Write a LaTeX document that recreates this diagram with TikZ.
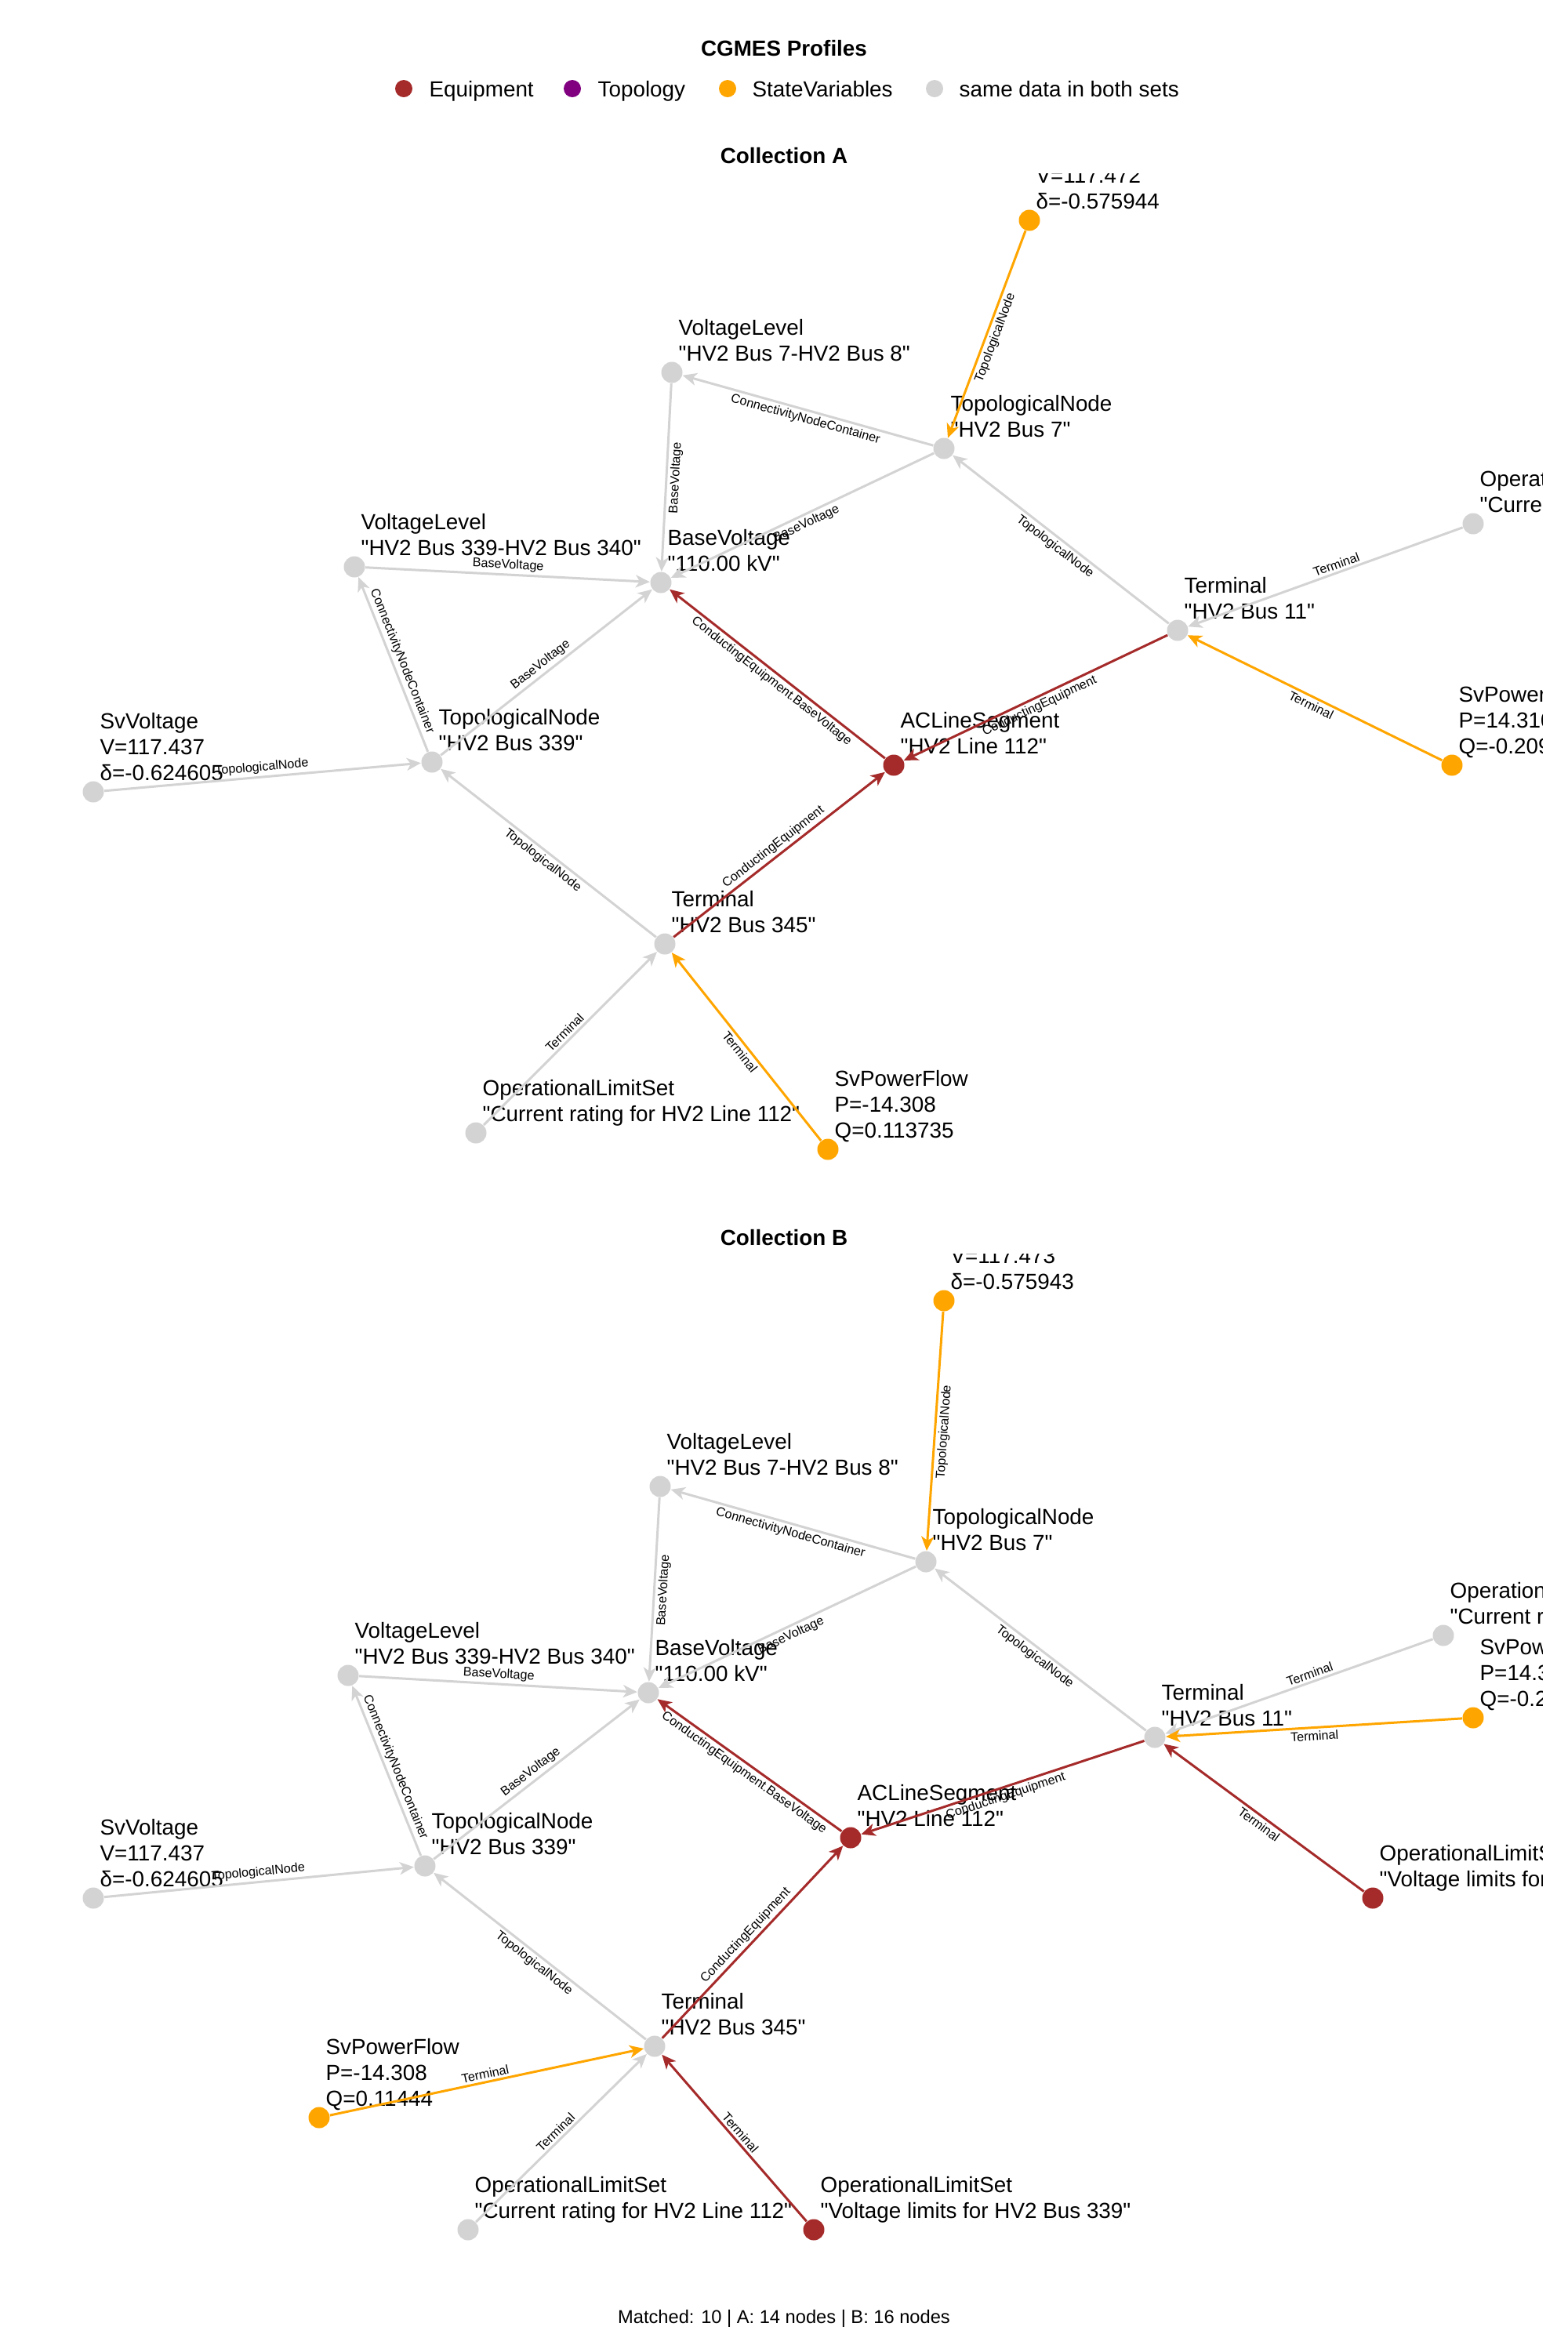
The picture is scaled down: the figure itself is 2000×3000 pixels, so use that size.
\documentclass[tikz,border=0pt]{standalone}
\usepackage{fontspec}
\setmainfont{Liberation Sans}[Ligatures=TeXOff]
\usetikzlibrary{arrows.meta}
\definecolor{eqred}{RGB}{165,42,42}
\definecolor{svorange}{RGB}{255,165,0}
\definecolor{topopurple}{RGB}{128,0,128}
\definecolor{samegray}{RGB}{211,211,211}
\begin{document}
\begin{tikzpicture}[x=0.3pt,y=-0.3pt,
  dot/.style={circle,inner sep=0pt,minimum size=8.1pt,draw=none},
  eqdot/.style={dot,fill=eqred},
  svdot/.style={dot,fill=svorange},
  samedot/.style={dot,fill=samegray},
  legdot/.style={circle,inner sep=0pt,minimum size=6.6pt,draw=none},
  nlab/.style={anchor=south west,inner sep=0pt,align=left,text depth=0pt,font=\fontsize{8.35}{9.9}\selectfont},
  legtext/.style={anchor=base west,inner sep=0pt,font=\fontsize{8.35}{9.9}\selectfont},
  ttl/.style={anchor=base,inner sep=0pt,font=\fontsize{8.35}{9.9}\selectfont\bfseries},
  elab/.style={font=\fontsize{4.85}{5.5}\selectfont,sloped,inner sep=0.9pt,text=black},
  edg/.style={line width=0.9pt,-{Stealth[length=5.4pt,width=4.8pt,inset=1.5pt]}},
  gedge/.style={edg,draw=samegray},
  redge/.style={edg,draw=eqred},
  oedge/.style={edg,draw=svorange}]
\useasboundingbox (0,0) rectangle (2000,3000);

% ---------- title and legend ----------
\node[ttl] (title) at (1000,71) {CGMES Profiles};
\node[legdot,fill=eqred] (lg1) at (515,113) {};
\node[legtext] (lg1t) at (547,123) {Equipment};
\node[legdot,fill=topopurple] (lg2) at (730,113) {};
\node[legtext] (lg2t) at (762,123) {Topology};
\node[legdot,fill=svorange] (lg3) at (928,113) {};
\node[legtext] (lg3t) at (959,123) {StateVariables};
\node[legdot,fill=samegray] (lg4) at (1192,113) {};
\node[legtext] (lg4t) at (1223,123) {same data in both sets};

\node[ttl] (titleA) at (1000,208) {Collection A};
\node[ttl] (titleB) at (1000,1588) {Collection B};
\node[anchor=base,inner sep=0pt,font=\fontsize{7.1}{8.5}\selectfont] (footer) at (1000,2963) {Matched: 10 | A: 14 nodes | B: 16 nodes};

% ---------- Collection A ----------
\begin{scope}
\clip (0,221) rectangle (1967,1560);
\node[svdot] (A-svvt) at (1313,281) {};
\node[samedot] (A-vl78) at (857,475) {};
\node[samedot] (A-tn7) at (1204,572) {};
\node[samedot] (A-olst) at (1879,668) {};
\node[samedot] (A-vl339) at (452,723) {};
\node[samedot] (A-bv) at (843,743) {};
\node[samedot] (A-t11) at (1502,804) {};
\node[samedot] (A-svvl) at (119,1010) {};
\node[samedot] (A-tn339) at (551,972) {};
\node[eqdot] (A-ac) at (1140,976) {};
\node[svdot] (A-svpfr) at (1852,976) {};
\node[samedot] (A-t345) at (848,1204) {};
\node[samedot] (A-olsb) at (607,1445) {};
\node[svdot] (A-svpfb) at (1056,1466) {};

\node[nlab] (A-svvt-l) at ([shift={(8,-13.5)}]A-svvt.center) {SvVoltage\\V=117.472\\δ=-0.575944};
\node[nlab] (A-vl78-l) at ([shift={(8,-13.5)}]A-vl78.center) {VoltageLevel\\"HV2 Bus 7-HV2 Bus 8"};
\node[nlab] (A-tn7-l) at ([shift={(8,-13.5)}]A-tn7.center) {TopologicalNode\\"HV2 Bus 7"};
\node[nlab] (A-olst-l) at ([shift={(8,-13.5)}]A-olst.center) {OperationalLimitSet\\"Current rating for HV2 Line 112"};
\node[nlab] (A-vl339-l) at ([shift={(8,-13.5)}]A-vl339.center) {VoltageLevel\\"HV2 Bus 339-HV2 Bus 340"};
\node[nlab] (A-bv-l) at ([shift={(8,-13.5)}]A-bv.center) {BaseVoltage\\"110.00 kV"};
\node[nlab] (A-t11-l) at ([shift={(8,-13.5)}]A-t11.center) {Terminal\\"HV2 Bus 11"};
\node[nlab] (A-svvl-l) at ([shift={(8,-13.5)}]A-svvl.center) {SvVoltage\\V=117.437\\δ=-0.624605};
\node[nlab] (A-tn339-l) at ([shift={(8,-13.5)}]A-tn339.center) {TopologicalNode\\"HV2 Bus 339"};
\node[nlab] (A-ac-l) at ([shift={(8,-13.5)}]A-ac.center) {ACLineSegment\\"HV2 Line 112"};
\node[nlab] (A-svpfr-l) at ([shift={(8,-13.5)}]A-svpfr.center) {SvPowerFlow\\P=14.3108\\Q=-0.209514};
\node[nlab] (A-t345-l) at ([shift={(8,-13.5)}]A-t345.center) {Terminal\\"HV2 Bus 345"};
\node[nlab] (A-olsb-l) at ([shift={(8,-13.5)}]A-olsb.center) {OperationalLimitSet\\"Current rating for HV2 Line 112"};
\node[nlab] (A-svpfb-l) at ([shift={(8,-13.5)}]A-svpfb.center) {SvPowerFlow\\P=-14.308\\Q=0.113735};

\draw[oedge] (A-svvt) -- node[elab,below]{TopologicalNode} (A-tn7);
\draw[gedge] (A-tn7) -- node[elab,below]{ConnectivityNodeContainer} (A-vl78);
\draw[gedge] (A-vl78) -- node[elab,below]{BaseVoltage} (A-bv);
\draw[gedge] (A-tn7) -- node[elab,below]{BaseVoltage} (A-bv);
\draw[gedge] (A-vl339) -- node[elab,above]{BaseVoltage} (A-bv);
\draw[gedge] (A-tn339) -- node[elab,above]{ConnectivityNodeContainer} (A-vl339);
\draw[gedge] (A-tn339) -- node[elab,above]{BaseVoltage} (A-bv);
\draw[gedge] (A-svvl) -- node[elab,above]{TopologicalNode} (A-tn339);
\draw[gedge] (A-t345) -- node[elab,below]{TopologicalNode} (A-tn339);
\draw[gedge] (A-t11) -- node[elab,below]{TopologicalNode} (A-tn7);
\draw[gedge] (A-olst) -- node[elab,above,pos=0.45]{Terminal} (A-t11);
\draw[oedge] (A-svpfr) -- node[elab,below]{Terminal} (A-t11);
\draw[redge] (A-t11) -- node[elab,below]{ConductingEquipment} (A-ac);
\draw[redge] (A-t345) -- node[elab,above]{ConductingEquipment} (A-ac);
\draw[redge] (A-ac) -- node[elab,below]{ConductingEquipment.BaseVoltage} (A-bv);
\draw[gedge] (A-olsb) -- node[elab,above]{Terminal} (A-t345);
\draw[oedge] (A-svpfb) -- node[elab,below]{Terminal} (A-t345);
\end{scope}

% ---------- Collection B ----------
\begin{scope}
\clip (0,1599) rectangle (1967,2935);
\node[svdot] (B-svvt) at (1204,1659) {};
\node[samedot] (B-vl78) at (842,1896) {};
\node[samedot] (B-tn7) at (1181,1992) {};
\node[samedot] (B-olst) at (1841,2086) {};
\node[svdot] (B-svpfr) at (1879,2191) {};
\node[samedot] (B-vl339) at (444,2137) {};
\node[samedot] (B-bv) at (827,2159) {};
\node[samedot] (B-t11) at (1473,2216) {};
\node[samedot] (B-svvl) at (119,2421) {};
\node[samedot] (B-tn339) at (542,2380) {};
\node[eqdot] (B-ac) at (1085,2344) {};
\node[eqdot] (B-olsvr) at (1751,2421) {};
\node[samedot] (B-t345) at (835,2610) {};
\node[svdot] (B-svpfl) at (407,2701) {};
\node[samedot] (B-olsb) at (597,2844) {};
\node[eqdot] (B-olsvb) at (1038,2844) {};

\node[nlab] (B-svvt-l) at ([shift={(8,-13.5)}]B-svvt.center) {SvVoltage\\V=117.473\\δ=-0.575943};
\node[nlab] (B-vl78-l) at ([shift={(8,-13.5)}]B-vl78.center) {VoltageLevel\\"HV2 Bus 7-HV2 Bus 8"};
\node[nlab] (B-tn7-l) at ([shift={(8,-13.5)}]B-tn7.center) {TopologicalNode\\"HV2 Bus 7"};
\node[nlab] (B-olst-l) at ([shift={(8,-13.5)}]B-olst.center) {OperationalLimitSet\\"Current rating for HV2 Line 112"};
\node[nlab] (B-svpfr-l) at ([shift={(8,-13.5)}]B-svpfr.center) {SvPowerFlow\\P=14.3108\\Q=-0.209514};
\node[nlab] (B-vl339-l) at ([shift={(8,-13.5)}]B-vl339.center) {VoltageLevel\\"HV2 Bus 339-HV2 Bus 340"};
\node[nlab] (B-bv-l) at ([shift={(8,-13.5)}]B-bv.center) {BaseVoltage\\"110.00 kV"};
\node[nlab] (B-t11-l) at ([shift={(8,-13.5)}]B-t11.center) {Terminal\\"HV2 Bus 11"};
\node[nlab] (B-svvl-l) at ([shift={(8,-13.5)}]B-svvl.center) {SvVoltage\\V=117.437\\δ=-0.624605};
\node[nlab] (B-tn339-l) at ([shift={(8,-13.5)}]B-tn339.center) {TopologicalNode\\"HV2 Bus 339"};
\node[nlab] (B-ac-l) at ([shift={(8,-13.5)}]B-ac.center) {ACLineSegment\\"HV2 Line 112"};
\node[nlab] (B-olsvr-l) at ([shift={(8,-13.5)}]B-olsvr.center) {OperationalLimitSet\\"Voltage limits for HV2 Bus 11"};
\node[nlab] (B-t345-l) at ([shift={(8,-13.5)}]B-t345.center) {Terminal\\"HV2 Bus 345"};
\node[nlab] (B-svpfl-l) at ([shift={(8,-13.5)}]B-svpfl.center) {SvPowerFlow\\P=-14.308\\Q=0.11444};
\node[nlab] (B-olsb-l) at ([shift={(8,-13.5)}]B-olsb.center) {OperationalLimitSet\\"Current rating for HV2 Line 112"};
\node[nlab] (B-olsvb-l) at ([shift={(8,-13.5)}]B-olsvb.center) {OperationalLimitSet\\"Voltage limits for HV2 Bus 339"};

\draw[oedge] (B-svvt) -- node[elab,below]{TopologicalNode} (B-tn7);
\draw[gedge] (B-tn7) -- node[elab,below]{ConnectivityNodeContainer} (B-vl78);
\draw[gedge] (B-vl78) -- node[elab,below]{BaseVoltage} (B-bv);
\draw[gedge] (B-tn7) -- node[elab,below]{BaseVoltage} (B-bv);
\draw[gedge] (B-vl339) -- node[elab,above]{BaseVoltage} (B-bv);
\draw[gedge] (B-tn339) -- node[elab,above]{ConnectivityNodeContainer} (B-vl339);
\draw[gedge] (B-tn339) -- node[elab,above]{BaseVoltage} (B-bv);
\draw[gedge] (B-svvl) -- node[elab,above]{TopologicalNode} (B-tn339);
\draw[gedge] (B-t345) -- node[elab,below]{TopologicalNode} (B-tn339);
\draw[gedge] (B-t11) -- node[elab,below]{TopologicalNode} (B-tn7);
\draw[gedge] (B-olst) -- node[elab,above,pos=0.45]{Terminal} (B-t11);
\draw[oedge] (B-svpfr) -- node[elab,below]{Terminal} (B-t11);
\draw[redge] (B-olsvr) -- node[elab,below]{Terminal} (B-t11);
\draw[redge] (B-t11) -- node[elab,below]{ConductingEquipment} (B-ac);
\draw[redge] (B-t345) -- node[elab,above]{ConductingEquipment} (B-ac);
\draw[redge] (B-ac) -- node[elab,below]{ConductingEquipment.BaseVoltage} (B-bv);
\draw[gedge] (B-olsb) -- node[elab,above]{Terminal} (B-t345);
\draw[redge] (B-olsvb) -- node[elab,above]{Terminal} (B-t345);
\draw[oedge] (B-svpfl) -- node[elab,above]{Terminal} (B-t345);
\end{scope}
\end{tikzpicture}
\end{document}
